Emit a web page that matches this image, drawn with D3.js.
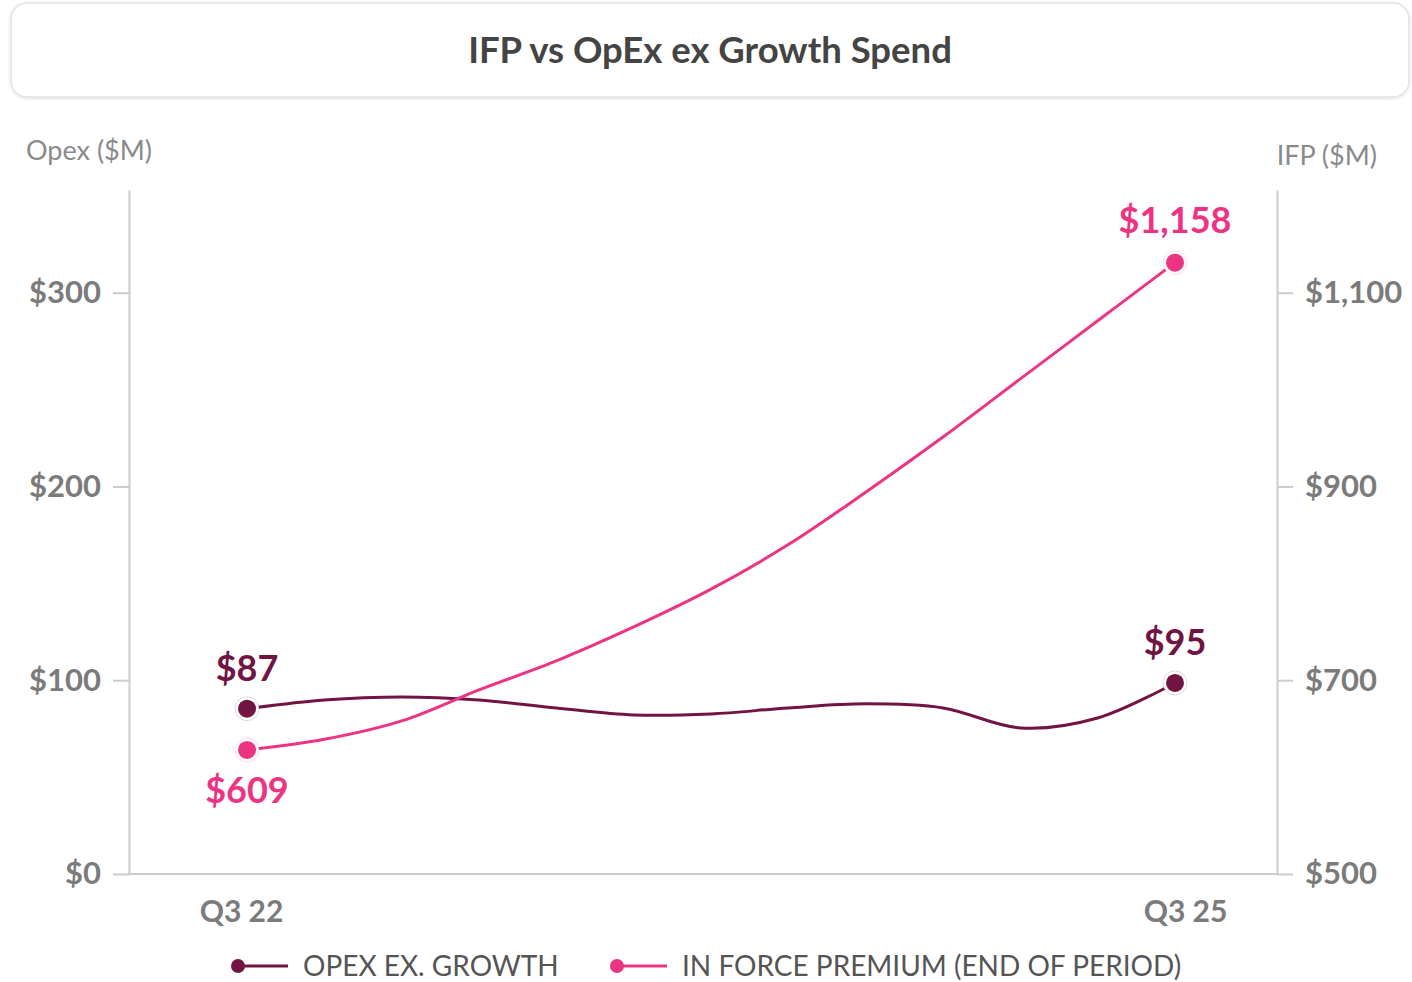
<!DOCTYPE html>
<html>
<head>
<meta charset="utf-8">
<script src="https://cdn.jsdelivr.net/npm/d3@7"></script>
<style>
  body { margin: 0; background: #fff; font-family: Lato, "Open Sans", sans-serif; }
</style>
</head>
<body>
<div id="chart"></div>
<script>
// quarterly series, Q3 22 .. Q3 25
const quarters = ["Q3 22", "Q4 22", "Q1 23", "Q2 23", "Q3 23", "Q4 23", "Q1 24",
                  "Q2 24", "Q3 24", "Q4 24", "Q1 25", "Q2 25", "Q3 25"];
const opexValues = [85.3, 89.8, 91.4, 89.8, 85.7, 82.1, 82.6, 85.7, 87.8, 85.7, 75.4, 80.5, 98.6];
const ifpValues = [628, 639, 658, 690, 720, 755, 794, 840, 894, 951, 1011, 1071, 1131];
const opexLabels = ["$87", "$95"];
const ifpLabels = ["$609", "$1,158"];
const opexTicks = [0, 100, 200, 300];
const ifpTicks = [500, 700, 900, 1100];
const xTickLabels = ["Q3 22", "Q3 25"];
const seriesNames = ["OPEX EX. GROWTH", "IN FORCE PREMIUM (END OF PERIOD)"];

const width = 1412, height = 982;
const maroon = "#711443", pink = "#ec3482", grey = "#7b7b7b", axisGrey = "#cccccc";
const plot = { left: 129, right: 1277, top: 190, bottom: 874 };

const svg = d3.select("#chart").append("svg")
  .attr("width", width)
  .attr("height", height)
  .style("font-family", "Lato, 'Open Sans', sans-serif");

// title box
const defs = svg.append("defs");
const f = defs.append("filter").attr("id", "shadow").attr("x", "-5%").attr("y", "-20%")
  .attr("width", "110%").attr("height", "150%");
f.append("feDropShadow").attr("dx", 0).attr("dy", 1).attr("stdDeviation", 1.5)
  .attr("flood-color", "#000").attr("flood-opacity", 0.12);

svg.append("rect")
  .attr("x", 11).attr("y", 3).attr("width", 1398).attr("height", 94)
  .attr("rx", 16)
  .attr("fill", "#fff").attr("stroke", "#e2e2e2").attr("stroke-width", 1.5)
  .attr("filter", "url(#shadow)");

svg.append("text")
  .attr("x", 710).attr("y", 63)
  .attr("text-anchor", "middle")
  .attr("fill", "#444")
  .style("font-size", "36.5px").style("font-weight", 700)
  .text("IFP vs OpEx ex Growth Spend");

// scales
const x = d3.scalePoint().domain(quarters).range([247, 1175]);
const yL = d3.scaleLinear().domain([0, 353]).range([plot.bottom, plot.top]);
const yR = d3.scaleLinear().domain([500, 1206]).range([plot.bottom, plot.top]);

// axes
const left = svg.append("g")
  .attr("transform", `translate(${plot.left},0)`)
  .call(d3.axisLeft(yL).tickValues(opexTicks).tickSize(16).tickSizeOuter(0)
    .tickPadding(12).tickFormat(d => "$" + d));

const right = svg.append("g")
  .attr("transform", `translate(${plot.right},0)`)
  .call(d3.axisRight(yR).tickValues(ifpTicks).tickSize(16).tickSizeOuter(0)
    .tickPadding(12).tickFormat(d => "$" + d3.format(",")(d)));

[left, right].forEach(a => {
  a.select(".domain").attr("stroke", axisGrey).attr("stroke-width", 2);
  a.selectAll(".tick line").attr("stroke", axisGrey).attr("stroke-width", 2);
  a.selectAll(".tick text").attr("fill", grey)
    .style("font-size", "31px").style("font-weight", 700)
    .style("font-family", "Lato, 'Open Sans', sans-serif");
});

// baseline
svg.append("line")
  .attr("x1", plot.left).attr("x2", plot.right)
  .attr("y1", yL(0)).attr("y2", yL(0))
  .attr("stroke", axisGrey).attr("stroke-width", 2);

const bottom = svg.append("g")
  .attr("transform", `translate(0,${plot.bottom})`)
  .call(d3.axisBottom(x).tickValues(xTickLabels).tickSize(0).tickPadding(27));
bottom.select(".domain").remove();
bottom.selectAll(".tick text").attr("fill", grey)
  .attr("dx", (d, i) => i === 0 ? -6 : 10)
  .style("font-size", "30px").style("font-weight", 700)
  .style("font-family", "Lato, 'Open Sans', sans-serif");

// axis titles
svg.append("text")
  .attr("x", 26).attr("y", 160)
  .attr("fill", "#8a8a8a")
  .style("font-size", "27px")
  .text("Opex ($M)");

svg.append("text")
  .attr("x", 1377).attr("y", 165)
  .attr("text-anchor", "end")
  .attr("fill", "#8a8a8a")
  .style("font-size", "27px")
  .text("IFP ($M)");

// lines
const opexData = quarters.map((q, i) => ({ q, v: opexValues[i] }));
const ifpData = quarters.map((q, i) => ({ q, v: ifpValues[i] }));

svg.append("path")
  .datum(opexData)
  .attr("fill", "none")
  .attr("stroke", maroon)
  .attr("stroke-width", 3)
  .attr("d", d3.line().x(d => x(d.q)).y(d => yL(d.v)).curve(d3.curveCatmullRom.alpha(0.5)));

svg.append("path")
  .datum(ifpData)
  .attr("fill", "none")
  .attr("stroke", pink)
  .attr("stroke-width", 3)
  .attr("d", d3.line().x(d => x(d.q)).y(d => yR(d.v)).curve(d3.curveCatmullRom.alpha(0.5)));

// end markers + labels
function endMarkers(data, yScale, color, labels, offsets) {
  const ends = [data[0], data[data.length - 1]];
  ends.forEach((d, i) => {
    const cx = x(d.q), cy = yScale(d.v);
    svg.append("circle")
      .attr("cx", cx).attr("cy", cy).attr("r", 12)
      .attr("fill", "#fff").attr("stroke", color).attr("stroke-opacity", 0.18)
      .attr("stroke-width", 1);
    svg.append("circle")
      .attr("cx", cx).attr("cy", cy).attr("r", 9)
      .attr("fill", color);
    svg.append("text")
      .attr("x", cx).attr("y", cy + offsets[i])
      .attr("text-anchor", "middle")
      .attr("fill", color)
      .style("font-size", "36px").style("font-weight", 700)
      .text(labels[i]);
  });
}
endMarkers(opexData, yL, maroon, opexLabels, [-28, -28]);
endMarkers(ifpData, yR, pink, ifpLabels, [53, -30]);

// legend
const legendItems = [
  { name: seriesNames[0], color: maroon, x: 238 },
  { name: seriesNames[1], color: pink, x: 617 }
];
const legend = svg.append("g").attr("transform", "translate(0,966)");
legendItems.forEach(item => {
  legend.append("line")
    .attr("x1", item.x).attr("x2", item.x + 50)
    .attr("y1", 0).attr("y2", 0)
    .attr("stroke", item.color).attr("stroke-width", 3);
  legend.append("circle")
    .attr("cx", item.x).attr("cy", 0).attr("r", 7)
    .attr("fill", item.color);
  legend.append("text")
    .attr("x", item.x + 65).attr("y", 10)
    .attr("fill", "#555")
    .style("font-size", "28px")
    .text(item.name);
});
</script>
</body>
</html>
